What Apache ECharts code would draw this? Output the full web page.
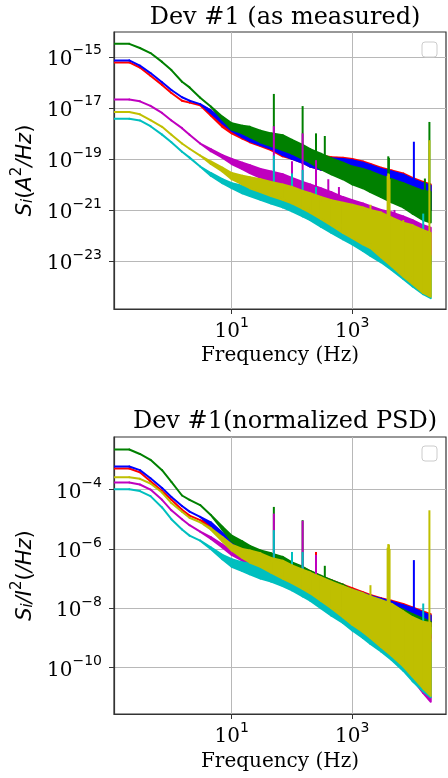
<!DOCTYPE html>
<html><head><meta charset="utf-8">
<script src="https://cdn.jsdelivr.net/npm/echarts@6/dist/echarts.min.js"></script>
<style>html,body{margin:0;padding:0;background:#fff}#c{width:448px;height:778px}</style>
</head><body><div id="c"></div>
<script>
// Frequency grid (Hz)
const FREQ = [0.112, 0.2, 0.3, 0.45, 0.7, 1, 1.5, 2, 3, 4.5, 7, 10, 15, 20, 30, 45, 70, 100, 150, 200, 300, 450, 700, 1000, 1500, 2000, 3000, 4500, 7000, 10000, 15000, 20000];

// Tick values
const X_TICKS = [10, 1000];
const TOP_Y_TICKS = [1e-23, 1e-21, 1e-19, 1e-17, 1e-15];
const BOT_Y_TICKS = [1e-10, 1e-8, 1e-6, 1e-4];

// ---- Top panel: S_i (A^2/Hz), upper / lower envelope of each noisy trace ----
const TOP_RED_HI = [6.0e-16, 6.0e-16, 3.8e-16, 1.8e-16, 7.9e-17, 3.8e-17, 1.9e-17, 1.6e-17, 1.26e-17, 7.9e-18, 3.2e-18, 1.8e-18, 1.26e-18, 1e-18, 7.9e-19, 6.3e-19, 4.0e-19, 2.8e-19, 2.0e-19, 1.6e-19, 1.4e-19, 1.17e-19, 1.12e-19, 1e-19, 7.9e-20, 6.3e-20, 4.5e-20, 3.5e-20, 2.7e-20, 1.8e-20, 1.26e-20, 1e-20];
const TOP_RED_LO = [6.0e-16, 6.0e-16, 3.8e-16, 1.8e-16, 7.9e-17, 3.8e-17, 1.9e-17, 1.6e-17, 1.26e-17, 5.0e-18, 1.8e-18, 1e-18, 6.3e-19, 4.5e-19, 3.2e-19, 2.2e-19, 1.26e-19, 1e-19, 7.1e-20, 5.0e-20, 3.8e-20, 3.2e-20, 2.8e-20, 2.5e-20, 1.8e-20, 1.4e-20, 1e-20, 7.1e-21, 5.0e-21, 2.5e-21, 1.4e-21, 1e-21];
const TOP_BLUE_HI = [7.2e-16, 7.2e-16, 4.5e-16, 2.3e-16, 1e-16, 5.0e-17, 2.6e-17, 1.9e-17, 1.4e-17, 7.9e-18, 3.5e-18, 2.0e-18, 1.4e-18, 1.12e-18, 7.9e-19, 6.3e-19, 4.0e-19, 2.8e-19, 2.0e-19, 1.4e-19, 1.26e-19, 1.05e-19, 1e-19, 8.9e-20, 7.1e-20, 5.6e-20, 4.0e-20, 3.2e-20, 2.4e-20, 1.6e-20, 1.12e-20, 8.9e-21];
const TOP_BLUE_LO = [7.2e-16, 7.2e-16, 4.5e-16, 2.3e-16, 1e-16, 5.0e-17, 2.6e-17, 1.9e-17, 1.4e-17, 6.3e-18, 2.5e-18, 1.26e-18, 7.1e-19, 5.0e-19, 3.5e-19, 2.5e-19, 1.4e-19, 1e-19, 7.1e-20, 5.0e-20, 3.8e-20, 3.2e-20, 2.8e-20, 2.5e-20, 1.8e-20, 1.4e-20, 1e-20, 7.1e-21, 5.0e-21, 2.5e-21, 1.4e-21, 1e-21];
const TOP_GREEN_HI = [3.2e-15, 3.2e-15, 2.2e-15, 1.4e-15, 6.3e-16, 3.0e-16, 1.05e-16, 6.3e-17, 2.5e-17, 1.12e-17, 4.5e-18, 2.5e-18, 2.0e-18, 1.8e-18, 1.26e-18, 1.0e-18, 8.5e-19, 5.6e-19, 3.5e-19, 2.4e-19, 1.6e-19, 1.05e-19, 7.1e-20, 5.0e-20, 4.0e-20, 3.2e-20, 2.2e-20, 1.6e-20, 1.12e-20, 7.9e-21, 5.6e-21, 5.0e-21];
const TOP_GREEN_LO = [3.2e-15, 3.2e-15, 2.2e-15, 1.4e-15, 6.3e-16, 3.0e-16, 1.05e-16, 6.3e-17, 2.5e-17, 1.12e-17, 3.5e-18, 1.4e-18, 1.0e-18, 7.1e-19, 4.5e-19, 3.2e-19, 2.2e-19, 1.6e-19, 1e-19, 7.1e-20, 4.0e-20, 2.5e-20, 1.6e-20, 1e-20, 7.1e-21, 5.0e-21, 3.2e-21, 2.0e-21, 1.26e-21, 7.1e-22, 4.0e-22, 3.2e-22];
const TOP_MAGENTA_HI = [2.1e-17, 2.1e-17, 1.8e-17, 1.2e-17, 6.3e-18, 3.2e-18, 1.6e-18, 8.9e-19, 4.0e-19, 2.4e-19, 1.4e-19, 1e-19, 7.1e-20, 5.6e-20, 4.0e-20, 3.2e-20, 2.5e-20, 1.8e-20, 1.26e-20, 1e-20, 7.1e-21, 5.0e-21, 3.2e-21, 2.4e-21, 1.8e-21, 1.4e-21, 1e-21, 7.9e-22, 5.6e-22, 4.0e-22, 2.5e-22, 2.0e-22];
const TOP_MAGENTA_LO = [2.1e-17, 2.1e-17, 1.8e-17, 1.2e-17, 6.3e-18, 3.2e-18, 1.6e-18, 8.9e-19, 4.0e-19, 2.0e-19, 1.12e-19, 6.3e-20, 4.0e-20, 2.8e-20, 1.8e-20, 1.26e-20, 8.9e-21, 5.6e-21, 3.5e-21, 2.5e-21, 1.6e-21, 1.12e-21, 7.1e-22, 5.0e-22, 3.5e-22, 2.5e-22, 1.6e-22, 8.9e-23, 5.0e-23, 2.5e-23, 1.26e-23, 7.9e-24];
const TOP_CYAN_HI = [3.7e-18, 3.7e-18, 3.2e-18, 1.9e-18, 8.9e-19, 4.5e-19, 1.9e-19, 1.12e-19, 5.0e-20, 2.8e-20, 1.6e-20, 1.12e-20, 8.9e-21, 7.9e-21, 6.3e-21, 5.0e-21, 4.0e-21, 3.2e-21, 2.2e-21, 1.8e-21, 1.26e-21, 8.9e-22, 6.3e-22, 4.5e-22, 3.2e-22, 2.5e-22, 1.6e-22, 1e-22, 6.3e-23, 4.0e-23, 2.5e-23, 1.6e-23];
const TOP_CYAN_LO = [3.7e-18, 3.7e-18, 3.2e-18, 1.9e-18, 8.9e-19, 4.5e-19, 1.9e-19, 1.12e-19, 5.0e-20, 2.2e-20, 1.12e-20, 7.1e-21, 4.5e-21, 3.5e-21, 2.5e-21, 1.8e-21, 1.26e-21, 8.9e-22, 5.6e-22, 4.0e-22, 2.2e-22, 1.26e-22, 7.1e-23, 4.5e-23, 2.5e-23, 1.6e-23, 8.9e-24, 4.5e-24, 2.0e-24, 1e-24, 5.0e-25, 3.5e-25];
const TOP_YELLOW_HI = [6.8e-18, 6.8e-18, 5.6e-18, 3.3e-18, 1.8e-18, 8.9e-19, 4.0e-19, 2.5e-19, 1.35e-19, 7.9e-20, 4.5e-20, 2.8e-20, 2.2e-20, 1.9e-20, 1.6e-20, 1.26e-20, 1e-20, 7.9e-21, 5.6e-21, 4.5e-21, 3.2e-21, 2.4e-21, 1.9e-21, 1.6e-21, 1.26e-21, 1e-21, 7.9e-22, 5.0e-22, 3.2e-22, 2.5e-22, 1.6e-22, 1.26e-22];
const TOP_YELLOW_LO = [6.8e-18, 6.8e-18, 5.6e-18, 3.3e-18, 1.8e-18, 8.9e-19, 4.0e-19, 2.5e-19, 1.35e-19, 6.3e-20, 3.2e-20, 1.6e-20, 1e-20, 7.1e-21, 5.0e-21, 3.5e-21, 2.5e-21, 1.8e-21, 1.12e-21, 7.9e-22, 4.5e-22, 2.5e-22, 1.26e-22, 7.9e-23, 4.5e-23, 3.2e-23, 1.4e-23, 6.3e-24, 2.5e-24, 1.26e-24, 5.6e-25, 4.0e-25];
// narrow line peaks: [frequency, foot, tip]
const TOP_RED_PEAKS = [[550, 2.5e-20, 1.2e-19]];
const TOP_BLUE_PEAKS = [[10500, 2.5e-21, 4.7e-19]];
const TOP_GREEN_PEAKS = [[50, 3.2e-19, 3.5e-17], [150, 1.26e-19, 1.17e-17], [250, 6.3e-20, 1e-18], [350, 5e-20, 7.9e-19], [3950, 2e-21, 1.26e-19], [4050, 2e-21, 1.1e-19], [16000, 5e-22, 1.7e-20], [19000, 3.2e-22, 2.8e-18]];
const TOP_MAGENTA_PEAKS = [[50, 1e-20, 1.9e-18], [100, 6.3e-21, 8.1e-20], [150, 4e-21, 1e-18], [250, 2e-21, 8.9e-20], [400, 1.26e-21, 1.6e-20], [600, 7.9e-22, 7.9e-21], [1200, 5e-22, 1.6e-21], [5000, 1e-22, 1e-21]];
const TOP_CYAN_PEAKS = [[50, 2.5e-21, 1.35e-19], [100, 1.26e-21, 2.7e-20], [150, 7.9e-22, 3.7e-20], [250, 5e-22, 7.9e-21], [15000, 3.2e-24, 7.2e-22]];
const TOP_YELLOW_PEAKS = [[2000, 5e-23, 1.6e-21], [3850, 1.6e-23, 2.2e-20], [3950, 1.26e-23, 2.7e-20], [4050, 1.2e-23, 2.5e-20], [4150, 1e-23, 1.6e-20], [7000, 4e-24, 4e-22], [19000, 4e-25, 5.4e-19]];

// ---- Bottom panel: S_i / I^2 (/Hz) ----
const BOT_RED_HI = [5.1e-4, 5.1e-4, 3.8e-4, 1.9e-4, 8.9e-5, 4.5e-5, 2.1e-5, 1.32e-5, 9.3e-6, 7.1e-6, 3.2e-6, 1.9e-6, 1.4e-6, 1.12e-6, 8.3e-7, 6.0e-7, 4.7e-7, 3.3e-7, 2.4e-7, 1.8e-7, 1.2e-7, 8.9e-8, 6.3e-8, 4.8e-8, 3.5e-8, 2.8e-8, 2.2e-8, 1.8e-8, 1.4e-8, 1.07e-8, 7.9e-9, 6.3e-9];
const BOT_RED_LO = [5.1e-4, 5.1e-4, 3.8e-4, 1.9e-4, 8.9e-5, 4.5e-5, 2.1e-5, 1.32e-5, 9.3e-6, 5.0e-6, 2.2e-6, 1.12e-6, 7.6e-7, 5.6e-7, 4.0e-7, 2.8e-7, 1.8e-7, 1.26e-7, 8.9e-8, 6.3e-8, 4.0e-8, 2.8e-8, 2.0e-8, 1.4e-8, 1.12e-8, 8.9e-9, 6.3e-9, 5.0e-9, 4.0e-9, 3.2e-9, 2.8e-9, 2.5e-9];
const BOT_BLUE_HI = [6.0e-4, 6.0e-4, 4.5e-4, 2.4e-4, 1.12e-4, 5.6e-5, 2.8e-5, 1.8e-5, 1.2e-5, 7.9e-6, 3.5e-6, 2.0e-6, 1.4e-6, 1.12e-6, 7.9e-7, 5.6e-7, 4.5e-7, 3.2e-7, 2.2e-7, 1.6e-7, 1.12e-7, 7.9e-8, 5.6e-8, 4.2e-8, 3.2e-8, 2.6e-8, 2.1e-8, 1.66e-8, 1.26e-8, 1e-8, 7.1e-9, 5.6e-9];
const BOT_BLUE_LO = [6.0e-4, 6.0e-4, 4.5e-4, 2.4e-4, 1.12e-4, 5.6e-5, 2.8e-5, 1.8e-5, 1.2e-5, 6.3e-6, 2.5e-6, 1.26e-6, 7.9e-7, 5.6e-7, 4.0e-7, 2.8e-7, 1.8e-7, 1.26e-7, 8.9e-8, 6.3e-8, 4.0e-8, 2.8e-8, 2.0e-8, 1.4e-8, 1.12e-8, 8.9e-9, 6.3e-9, 5.0e-9, 4.0e-9, 3.2e-9, 2.8e-9, 2.5e-9];
const BOT_GREEN_HI = [2.24e-3, 2.24e-3, 1.58e-3, 1e-3, 4.5e-4, 1.8e-4, 6.3e-5, 4.5e-5, 3.0e-5, 1.4e-5, 5.6e-6, 2.8e-6, 1.8e-6, 1.26e-6, 8.9e-7, 7.1e-7, 5.4e-7, 3.5e-7, 2.5e-7, 1.8e-7, 1.26e-7, 8.9e-8, 6.3e-8, 4.0e-8, 2.8e-8, 2.2e-8, 1.6e-8, 1.26e-8, 8.9e-9, 6.3e-9, 4.5e-9, 3.5e-9];
const BOT_GREEN_LO = [2.24e-3, 2.24e-3, 1.58e-3, 1e-3, 4.5e-4, 1.8e-4, 6.3e-5, 4.5e-5, 3.0e-5, 1.4e-5, 4.5e-6, 1.8e-6, 1e-6, 7.1e-7, 4.5e-7, 3.2e-7, 2.0e-7, 1.26e-7, 8.9e-8, 6.3e-8, 4.0e-8, 2.5e-8, 1.8e-8, 1.26e-8, 8.9e-9, 7.1e-9, 5.0e-9, 3.5e-9, 2.5e-9, 1.8e-9, 1.26e-9, 1e-9];
const BOT_MAGENTA_HI = [1.74e-4, 1.74e-4, 1.48e-4, 1e-4, 4.5e-5, 2.0e-5, 1e-5, 6.3e-6, 3.8e-6, 2.5e-6, 1.4e-6, 8.9e-7, 6.3e-7, 5.0e-7, 3.5e-7, 2.8e-7, 2.0e-7, 1.4e-7, 1e-7, 7.9e-8, 5.6e-8, 4.0e-8, 2.8e-8, 2.2e-8, 1.6e-8, 1.26e-8, 8.9e-9, 6.3e-9, 4.0e-9, 2.8e-9, 1.8e-9, 1.26e-9];
const BOT_MAGENTA_LO = [1.74e-4, 1.74e-4, 1.48e-4, 1e-4, 4.5e-5, 2.0e-5, 1e-5, 6.3e-6, 3.8e-6, 2.2e-6, 1.12e-6, 6.3e-7, 4.0e-7, 2.8e-7, 2.0e-7, 1.4e-7, 8.9e-8, 6.3e-8, 4.0e-8, 2.8e-8, 1.6e-8, 8.9e-9, 5.0e-9, 3.2e-9, 1.8e-9, 1.12e-9, 5.6e-10, 2.5e-10, 1e-10, 4.0e-11, 1.4e-11, 7.1e-12];
const BOT_CYAN_HI = [1.02e-4, 1.02e-4, 8.9e-5, 6.0e-5, 2.5e-5, 1e-5, 4.5e-6, 2.8e-6, 1.9e-6, 1.12e-6, 6.3e-7, 4.5e-7, 3.5e-7, 3.2e-7, 2.5e-7, 2.0e-7, 1.6e-7, 1.12e-7, 7.9e-8, 6.3e-8, 4.5e-8, 3.2e-8, 2.2e-8, 1.6e-8, 1.12e-8, 8.9e-9, 6.3e-9, 4.0e-9, 2.5e-9, 1.6e-9, 1e-9, 7.1e-10];
const BOT_CYAN_LO = [1.02e-4, 1.02e-4, 8.9e-5, 6.0e-5, 2.5e-5, 1e-5, 4.5e-6, 2.8e-6, 1.9e-6, 1e-6, 4.5e-7, 2.5e-7, 1.8e-7, 1.4e-7, 1e-7, 7.9e-8, 5.6e-8, 4.0e-8, 2.5e-8, 1.8e-8, 1e-8, 5.6e-9, 3.2e-9, 1.8e-9, 1e-9, 6.3e-10, 3.5e-10, 1.8e-10, 7.9e-11, 3.5e-11, 1.6e-11, 1e-11];
const BOT_YELLOW_HI = [2.6e-4, 2.6e-4, 2.3e-4, 1.6e-4, 7.9e-5, 3.5e-5, 1.8e-5, 1.12e-5, 7.9e-6, 5.0e-6, 2.5e-6, 1.4e-6, 1e-6, 8.9e-7, 7.1e-7, 5.0e-7, 4.0e-7, 2.8e-7, 2.0e-7, 1.6e-7, 1.12e-7, 7.9e-8, 5.6e-8, 4.2e-8, 3.2e-8, 2.5e-8, 1.9e-8, 1.4e-8, 7.9e-9, 5.0e-9, 3.5e-9, 3.2e-9];
const BOT_YELLOW_LO = [2.6e-4, 2.6e-4, 2.3e-4, 1.6e-4, 7.9e-5, 3.5e-5, 1.8e-5, 1.12e-5, 7.9e-6, 4.5e-6, 1.8e-6, 8.9e-7, 5.0e-7, 3.5e-7, 2.5e-7, 1.6e-7, 1e-7, 7.1e-8, 4.5e-8, 3.2e-8, 1.8e-8, 1e-8, 5.0e-9, 2.8e-9, 1.6e-9, 1e-9, 5.0e-10, 2.5e-10, 1.12e-10, 5.0e-11, 2.0e-11, 1.12e-11];
const BOT_RED_PEAKS = [[250, 6.3e-8, 7.9e-7], [550, 2.5e-8, 7.8e-8]];
const BOT_BLUE_PEAKS = [[10500, 3.2e-9, 4.2e-7]];
const BOT_GREEN_PEAKS = [[50, 3.2e-7, 2.6e-5], [150, 1e-7, 9.3e-6], [350, 4e-8, 2.7e-7]];
const BOT_MAGENTA_PEAKS = [[50, 1.6e-7, 1.55e-5], [150, 5e-8, 8.9e-6], [250, 2.5e-8, 6.3e-7]];
const BOT_CYAN_PEAKS = [[50, 7.9e-8, 4.3e-6], [100, 5e-8, 7.9e-7], [150, 3.2e-8, 7.9e-7], [15000, 2e-11, 1.45e-8]];
const BOT_YELLOW_PEAKS = [[2000, 1.26e-9, 6e-8], [3850, 5e-10, 1.1e-6], [3950, 4.5e-10, 1.45e-6], [4050, 4e-10, 1.4e-6], [4150, 3.5e-10, 1e-6], [19000, 1.26e-11, 2e-5]];

const COLORS = { red: '#ff0000', blue: '#0000ff', green: '#008000', magenta: '#bf00bf', cyan: '#00bfbf', yellow: '#bfbf00' };

const PANELS = [
  { hi: { red: TOP_RED_HI, blue: TOP_BLUE_HI, green: TOP_GREEN_HI, magenta: TOP_MAGENTA_HI, cyan: TOP_CYAN_HI, yellow: TOP_YELLOW_HI },
    lo: { red: TOP_RED_LO, blue: TOP_BLUE_LO, green: TOP_GREEN_LO, magenta: TOP_MAGENTA_LO, cyan: TOP_CYAN_LO, yellow: TOP_YELLOW_LO },
    pk: { red: TOP_RED_PEAKS, blue: TOP_BLUE_PEAKS, green: TOP_GREEN_PEAKS, magenta: TOP_MAGENTA_PEAKS, cyan: TOP_CYAN_PEAKS, yellow: TOP_YELLOW_PEAKS } },
  { hi: { red: BOT_RED_HI, blue: BOT_BLUE_HI, green: BOT_GREEN_HI, magenta: BOT_MAGENTA_HI, cyan: BOT_CYAN_HI, yellow: BOT_YELLOW_HI },
    lo: { red: BOT_RED_LO, blue: BOT_BLUE_LO, green: BOT_GREEN_LO, magenta: BOT_MAGENTA_LO, cyan: BOT_CYAN_LO, yellow: BOT_YELLOW_LO },
    pk: { red: BOT_RED_PEAKS, blue: BOT_BLUE_PEAKS, green: BOT_GREEN_PEAKS, magenta: BOT_MAGENTA_PEAKS, cyan: BOT_CYAN_PEAKS, yellow: BOT_YELLOW_PEAKS } }
];
const ORDER = ['red', 'blue', 'green', 'magenta', 'cyan', 'yellow'];
const LW = 2;

const series = [];
PANELS.forEach((p, idx) => {
  ORDER.forEach(name => {
    const hi = p.hi[name], lo = p.lo[name], col = COLORS[name];
    const segs = [];
    for (let i = 0; i < FREQ.length - 1; i++) segs.push([FREQ[i], hi[i], lo[i], FREQ[i + 1], hi[i + 1], lo[i + 1]]);
    series.push({
      type: 'custom', xAxisIndex: idx, yAxisIndex: idx, clip: true, silent: true, animation: false,
      encode: { x: [0, 3], y: [1, 2, 4, 5] },
      data: segs,
      renderItem: (params, api) => ({
        type: 'polygon',
        shape: { points: [api.coord([api.value(0), api.value(1)]), api.coord([api.value(3), api.value(4)]),
                          api.coord([api.value(3), api.value(5)]), api.coord([api.value(0), api.value(2)])] },
        style: { fill: col, stroke: col, lineWidth: LW, lineJoin: 'round' }
      })
    });
    series.push({
      type: 'custom', xAxisIndex: idx, yAxisIndex: idx, clip: true, silent: true, animation: false,
      encode: { x: 0, y: [1, 2] },
      data: p.pk[name],
      renderItem: (params, api) => {
        const a = api.coord([api.value(0), api.value(1)]), b = api.coord([api.value(0), api.value(2)]);
        return { type: 'line', shape: { x1: a[0], y1: a[1], x2: b[0], y2: b[1] }, style: { stroke: col, lineWidth: LW } };
      }
    });
  });
});

const AX = '#333';
const supFmt = v => { const e = Math.round(Math.log10(v)); return '{b|10}{s|' + (e < 0 ? '\u2212' + (-e) : e) + '}'; };
const tickRich = { b: { fontFamily: 'DejaVu Serif', fontSize: 20, color: '#000', verticalAlign: 'bottom', lineHeight: 26 },
                   s: { fontFamily: 'DejaVu Sans', fontSize: 14, color: '#000', verticalAlign: 'top', lineHeight: 18 } };
function xAxis(gi, gap) {
  return { type: 'log', logBase: 10, gridIndex: gi, min: 0.1117, max: 35800,
    name: 'Frequency (Hz)', nameLocation: 'middle', nameGap: gap,
    nameTextStyle: { fontFamily: 'DejaVu Serif', fontSize: 20, color: '#000' },
    axisLine: { show: true, lineStyle: { color: AX, width: 1.2 } },
    axisTick: { show: true, length: 5, customValues: X_TICKS, lineStyle: { color: AX, width: 1 } },
    axisLabel: { customValues: X_TICKS, formatter: supFmt, rich: tickRich, margin: 7 },
    splitLine: { show: true, lineStyle: { color: '#b8b8b8', width: 1 } } };
}
function yAxis(gi, min, max, ticks, nameRich, nameStr) {
  return { type: 'log', logBase: 10, gridIndex: gi, min, max,
    name: nameStr, nameLocation: 'middle', nameGap: 77, nameRotate: 90,
    nameTextStyle: { rich: nameRich },
    axisLine: { show: true, lineStyle: { color: AX, width: 1.2 } },
    axisTick: { show: true, length: 5, customValues: ticks, lineStyle: { color: AX, width: 1 } },
    axisLabel: { customValues: ticks, formatter: supFmt, rich: tickRich, margin: 12 },
    splitLine: { show: true, lineStyle: { color: '#b8b8b8', width: 1 } } };
}
const nameRich = {
  it: { fontFamily: 'DejaVu Sans', fontStyle: 'italic', fontSize: 21, color: '#000', verticalAlign: 'bottom', lineHeight: 26 },
  rm: { fontFamily: 'DejaVu Sans', fontSize: 21, color: '#000', verticalAlign: 'bottom', lineHeight: 26 },
  sub: { fontFamily: 'DejaVu Sans', fontStyle: 'italic', fontSize: 15, color: '#000', verticalAlign: 'bottom', lineHeight: 22 },
  sup: { fontFamily: 'DejaVu Sans', fontSize: 15, color: '#000', verticalAlign: 'top', lineHeight: 18 }
};

const chart = echarts.init(document.getElementById('c'), null, { renderer: 'canvas' });
chart.setOption({
  backgroundColor: '#fff',
  animation: false,
  title: [
    { text: 'Dev #1 (as measured)', left: 280, top: 1, textAlign: 'center',
      textStyle: { fontFamily: 'DejaVu Serif', fontSize: 24, fontWeight: 'normal', color: '#000' } },
    { text: 'Dev #1(normalized PSD)', left: 280, top: 405, textAlign: 'center',
      textStyle: { fontFamily: 'DejaVu Serif', fontSize: 24, fontWeight: 'normal', color: '#000' } }
  ],
  grid: [
    { left: 114, top: 32, width: 332, height: 277, show: true, borderColor: AX, borderWidth: 1.2, backgroundColor: 'transparent' },
    { left: 114, top: 437, width: 332, height: 277, show: true, borderColor: AX, borderWidth: 1.2, backgroundColor: 'transparent' }
  ],
  xAxis: [xAxis(0, 37), xAxis(1, 38)],
  yAxis: [
    yAxis(0, 1.32e-25, 9.33e-15, TOP_Y_TICKS, nameRich, '{it|S}{sub|i}{rm|(}{it|A}{sup|2}{it|/Hz}{rm|)}'),
    yAxis(1, 2.75e-12, 5.89e-3, BOT_Y_TICKS, nameRich, '{it|S}{sub|i}{it|/I}{sup|2}{rm|(}{it|/Hz}{rm|)}')
  ],
  graphic: [
    { type: 'rect', shape: { x: 422, y: 42, width: 15, height: 15, r: 3 }, style: { fill: 'rgba(255,255,255,0.8)', stroke: '#cccccc', lineWidth: 1 }, z: 100 },
    { type: 'rect', shape: { x: 422, y: 446, width: 15, height: 15, r: 3 }, style: { fill: 'rgba(255,255,255,0.8)', stroke: '#cccccc', lineWidth: 1 }, z: 100 }
  ],
  series
});
</script></body></html>
